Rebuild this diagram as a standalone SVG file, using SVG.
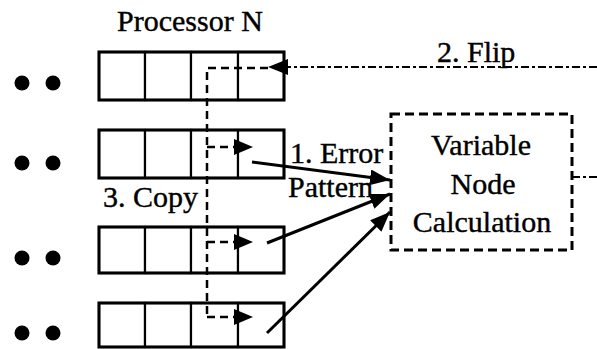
<svg xmlns="http://www.w3.org/2000/svg" width="597" height="349" viewBox="0 0 597 349">
<defs>
<style>
text{font-family:"Liberation Serif","Times New Roman","DejaVu Serif",serif;font-size:30px;fill:#000;stroke:#000;stroke-width:0.4}
.cell{fill:#fff;stroke:#000;stroke-width:2.2}
.row{fill:none;stroke:#000;stroke-width:3}
.dot{fill:#000}
.copy{fill:none;stroke:#000;stroke-width:2.5;stroke-dasharray:8 5}
.flip{fill:none;stroke:#000;stroke-width:2;stroke-dasharray:8 3 3 3}
.err{fill:none;stroke:#000;stroke-width:3}
.head{fill:#000}
</style>
<marker id="ah" viewBox="0 0 20 16" refX="20" refY="8" markerWidth="20" markerHeight="16" markerUnits="userSpaceOnUse" orient="auto">
<path d="M0,0 L20,8 L0,16 Z" fill="#000"/>
</marker>
</defs>
<rect width="597" height="349" fill="#fff"/>
<g id="title"><text x="117" y="31">Processor N</text></g>
<g id="row1">
<circle class="dot" cx="22" cy="83" r="7.5"/><circle class="dot" cx="53" cy="83" r="7.5"/>
<rect class="cell" x="99" y="52" width="46" height="48"/><rect class="cell" x="145" y="52" width="46" height="48"/><rect class="cell" x="191" y="52" width="47" height="48"/><rect class="cell" x="238" y="52" width="46" height="48"/>
<rect class="row" x="99" y="52" width="185" height="48"/>
</g>
<g id="row2">
<circle class="dot" cx="22" cy="163" r="7.5"/><circle class="dot" cx="53" cy="163" r="7.5"/>
<rect class="cell" x="99" y="130" width="46" height="48"/><rect class="cell" x="145" y="130" width="46" height="48"/><rect class="cell" x="191" y="130" width="47" height="48"/><rect class="cell" x="238" y="130" width="46" height="48"/>
<rect class="row" x="99" y="130" width="185" height="48"/>
</g>
<g id="row3">
<circle class="dot" cx="22" cy="258" r="7.5"/><circle class="dot" cx="53" cy="258" r="7.5"/>
<rect class="cell" x="99" y="227" width="46" height="46"/><rect class="cell" x="145" y="227" width="46" height="46"/><rect class="cell" x="191" y="227" width="47" height="46"/><rect class="cell" x="238" y="227" width="46" height="46"/>
<rect class="row" x="99" y="227" width="185" height="46"/>
</g>
<g id="row4">
<circle class="dot" cx="22" cy="333" r="7.5"/><circle class="dot" cx="53" cy="333" r="7.5"/>
<rect class="cell" x="99" y="303" width="46" height="44"/><rect class="cell" x="145" y="303" width="46" height="44"/><rect class="cell" x="191" y="303" width="47" height="44"/><rect class="cell" x="238" y="303" width="46" height="44"/>
<rect class="row" x="99" y="303" width="185" height="44"/>
</g>
<g id="vnc">
<rect x="391" y="114" width="181" height="136" fill="none" stroke="#000" stroke-width="3" stroke-dasharray="9 5"/>
<text x="481" y="155" text-anchor="middle">Variable</text>
<text x="483" y="194" text-anchor="middle">Node</text>
<text x="482" y="232" text-anchor="middle">Calculation</text>
</g>
<g id="connectors">
<path class="flip" d="M597,67 H288"/>
<path class="head" d="M268,67 L288,59 L288,75 Z"/>
<path class="copy" d="M268,68 H207 V317"/>
<path class="copy" d="M207,147 H236"/>
<path class="copy" d="M207,242 H236"/>
<path class="copy" d="M207,317 H236"/>
<path class="head" d="M253,147 L234,139 L234,155 Z"/>
<path class="head" d="M253,242 L234,234 L234,250 Z"/>
<path class="head" d="M253,317 L234,309 L234,325 Z"/>
<path class="flip" d="M572,177 H597"/>
<path class="err" d="M252,162 L390,180" marker-end="url(#ah)"/>
<path class="err" d="M267,243 L390,194" marker-end="url(#ah)"/>
<path class="err" d="M267,333 L390,212" marker-end="url(#ah)"/>
</g>
<g id="labels">
<text x="437" y="62">2. Flip</text>
<text x="290" y="163">1. Error</text>
<text x="288" y="197">Pattern</text>
<text x="103" y="207">3. Copy</text>
</g>
</svg>
